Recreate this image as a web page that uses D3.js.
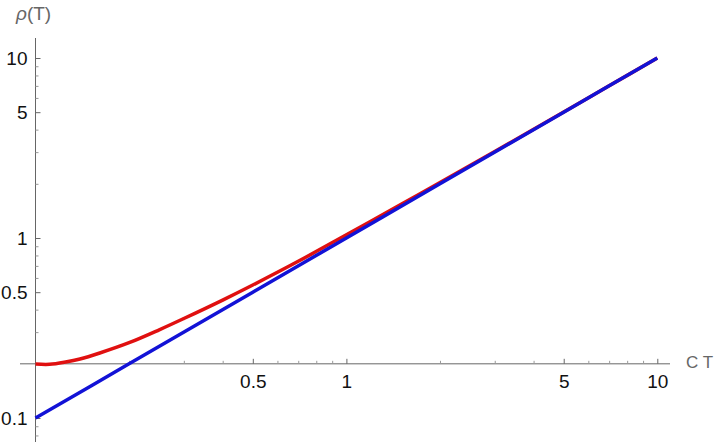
<!DOCTYPE html>
<html><head><meta charset="utf-8">
<script src="https://cdn.jsdelivr.net/npm/d3@7"></script>
<style>body{margin:0;background:#fff}svg{display:block}</style>
</head><body>
<svg id="c" width="720" height="442"></svg>
<script>
// Data
const blueT   = [0.1, 0.2, 0.5, 1, 2, 5, 10];
const blueRho = [0.1, 0.2, 0.5, 1, 2, 5, 10];
const redT   = [0.1, 0.111, 0.125, 0.139, 0.161, 0.2, 0.25, 0.3, 0.4, 0.5, 0.7, 1, 1.5, 2, 3, 5, 7, 10];
const redRho = [0.1995, 0.1988, 0.2047, 0.2127, 0.2297, 0.262, 0.309, 0.357, 0.452, 0.548, 0.742, 1.042, 1.537, 2.032, 3.024, 5.015, 7.007, 10.0];
const xMajor = [0.5, 1, 5, 10];
const xMinor = [0.2, 0.3, 0.4, 0.6, 0.7, 0.8, 0.9, 2, 3, 4, 6, 7, 8, 9];
const yMajor = [0.1, 0.5, 1, 5, 10];
const yMinor = [0.08, 0.09, 0.3, 0.4, 0.6, 0.7, 0.8, 0.9, 2, 3, 4, 6, 7, 8, 9];
const xOrigin = 0.1, yOrigin = 0.2;

const svg = d3.select("#c");
const x = d3.scaleLog().domain([0.1, 10]).range([35.5, 657.3]);
const y = d3.scaleLog().domain([0.1, 10]).range([418, 58]);
const font = "'Liberation Sans', Arial, sans-serif";

const x0 = x(xOrigin), y0 = y(yOrigin);

// axis lines
svg.append("line").attr("x1", 20).attr("x2", 670).attr("y1", y0).attr("y2", y0)
  .attr("stroke", "#666").attr("stroke-width", 1);
svg.append("line").attr("x1", x0).attr("x2", x0).attr("y1", 38).attr("y2", 442)
  .attr("stroke", "#666").attr("stroke-width", 1);

function styleAxis(g){
  g.attr("font-family", font).attr("font-size", 19);
  g.select(".domain").remove();
  g.selectAll("text").attr("fill", "#111");
}
// x axis
svg.append("g").attr("transform", `translate(0,${y0})`)
  .call(d3.axisBottom(x).tickValues(xMinor).tickSize(-3).tickFormat(""))
  .call(g => { g.select(".domain").remove(); g.selectAll("line").attr("stroke", "#999"); });
svg.append("g").attr("transform", `translate(0,${y0})`)
  .call(d3.axisBottom(x).tickValues(xMajor).tickSize(-5).tickPadding(11).tickFormat(d => String(d)))
  .call(styleAxis).call(g => g.selectAll("line").attr("stroke", "#666"));
// y axis
svg.append("g").attr("transform", `translate(${x0},0)`)
  .call(d3.axisLeft(y).tickValues(yMinor).tickSize(-3).tickFormat(""))
  .call(g => { g.select(".domain").remove(); g.selectAll("line").attr("stroke", "#999"); });
svg.append("g").attr("transform", `translate(${x0},0)`)
  .call(d3.axisLeft(y).tickValues(yMajor).tickSize(-5).tickPadding(8).tickFormat(d => String(d)))
  .call(styleAxis).call(g => g.selectAll("line").attr("stroke", "#666"));

// axis titles
const yt = svg.append("text").attr("x", 16).attr("y", 20)
  .attr("font-family", font).attr("font-size", 19).attr("fill", "#666");
yt.append("tspan").attr("font-style", "italic").text("ρ");
yt.append("tspan").text("(T)");
svg.append("text").attr("x", 686).attr("y", 368).text("C T")
  .attr("font-family", font).attr("font-size", 17).attr("fill", "#666");

// curves
const line = d3.line().x(d => x(d[0])).y(d => y(d[1])).curve(d3.curveCatmullRom);
svg.append("path").datum(redT.map((t, i) => [t, redRho[i]]))
  .attr("d", line).attr("fill", "none").attr("stroke", "#e01010").attr("stroke-width", 3.5);
svg.append("path").datum(blueT.map((t, i) => [t, blueRho[i]]))
  .attr("d", line).attr("fill", "none").attr("stroke", "#1212d6").attr("stroke-width", 3.5);
</script>
</body></html>
